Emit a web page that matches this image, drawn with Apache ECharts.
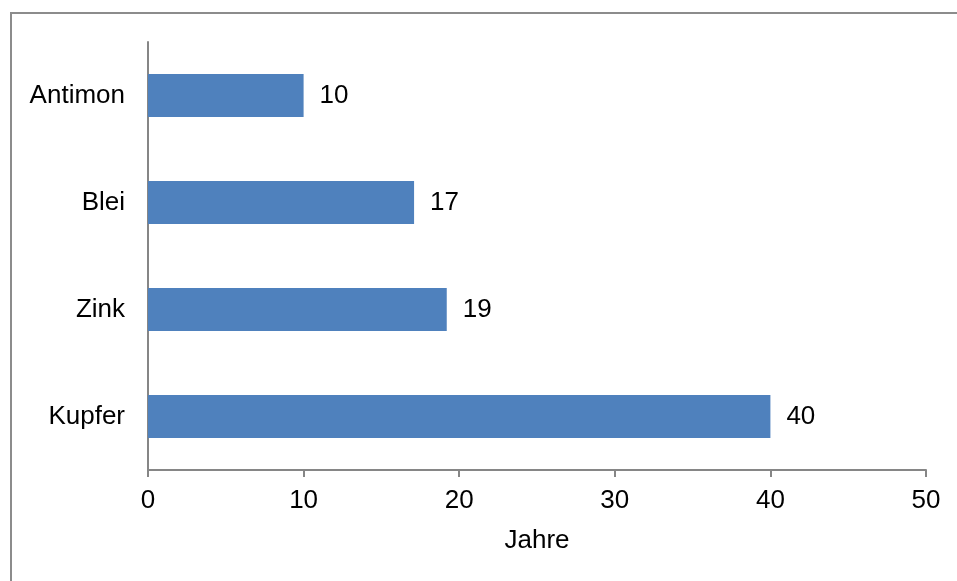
<!DOCTYPE html>
<html>
<head>
<meta charset="utf-8">
<script src="https://cdn.jsdelivr.net/npm/echarts@6/dist/echarts.min.js"></script>
<style>
html,body{margin:0;padding:0;background:#fff;}
#chart{width:957px;height:581px;}
</style>
</head>
<body>
<div id="chart"></div>
<script>
var categories = ['Antimon', 'Blei', 'Zink', 'Kupfer'];
var values = [10, 17.1, 19.2, 40];
var xTicks = [0, 10, 20, 30, 40, 50];
var axisName = 'Jahre';

var FONT = '"Liberation Sans", Arial, sans-serif';
var FS = 26;
var chart = echarts.init(document.getElementById('chart'), null, {renderer: 'canvas'});
chart.setOption({
  animation: false,
  backgroundColor: '#fff',
  graphic: [{
    type: 'rect', silent: true,
    shape: {x: 11, y: 13, width: 1000, height: 1000},
    style: {fill: 'none', stroke: '#8c8c8c', lineWidth: 2}
  }],
  grid: {left: 148, right: 31, top: 42, bottom: 111, containLabel: false},
  xAxis: {
    type: 'value',
    min: xTicks[0], max: xTicks[xTicks.length - 1], interval: 10,
    name: axisName, nameLocation: 'middle', nameGap: 58,
    nameTextStyle: {fontFamily: FONT, fontSize: FS, color: '#000'},
    axisLine: {show: true, lineStyle: {color: '#868686', width: 2}},
    axisTick: {show: true, length: 7, lineStyle: {color: '#868686', width: 2}},
    axisLabel: {fontFamily: FONT, fontSize: FS, color: '#000', margin: 18},
    splitLine: {show: false}
  },
  yAxis: {
    type: 'category', data: categories, inverse: true,
    axisLine: {show: true, lineStyle: {color: '#868686', width: 2}},
    axisTick: {show: false},
    axisLabel: {fontFamily: FONT, fontSize: FS, color: '#000', margin: 23, padding: [4, 0, 0, 0]}
  },
  series: [{
    type: 'bar', data: values, barWidth: 43,
    itemStyle: {color: '#4f81bd'},
    label: {
      show: true, position: 'right', distance: 16,
      fontFamily: FONT, fontSize: FS, color: '#000', padding: [4, 0, 0, 0],
      formatter: function (p) { return Math.round(p.value); }
    }
  }]
});
</script>
</body>
</html>
